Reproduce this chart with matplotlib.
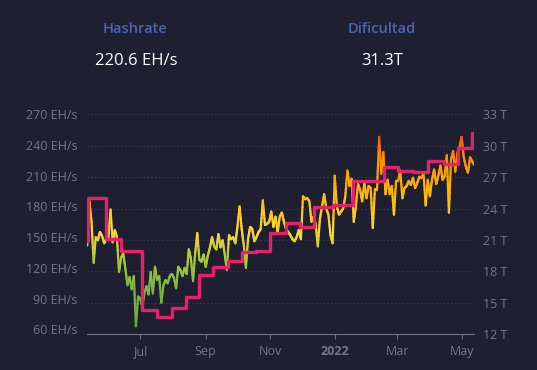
import numpy as np
import pandas as pd
import matplotlib
matplotlib.use("Agg")
import matplotlib.pyplot as plt
import matplotlib.dates as mdates
from matplotlib.collections import LineCollection
from matplotlib.colors import LinearSegmentedColormap

# hashrate (EH/s), one reading every 2 days starting 2021-05-12
start_date = "2021-05-12"
hashrate = [
    142, 185, 165, 125, 150, 147, 155, 151, 144, 149, 150, 177, 145, 157, 150, 116,
    130, 134, 119, 103, 111, 99, 112, 63, 92, 90, 82, 95, 102, 94, 116, 95,
    121, 108, 112, 86, 103, 108, 105, 112, 114, 110, 100, 121, 118, 112, 120, 114,
    138, 129, 107, 134, 154, 128, 126, 133, 121, 132, 140, 150, 141, 138, 153, 140,
    147, 133, 118, 152, 148, 150, 144, 160, 180, 158, 142, 120, 148, 160, 158, 146,
    150, 155, 158, 186, 162, 163, 165, 175, 160, 170, 155, 170, 174, 165, 158, 155,
    152, 148, 146, 150, 157, 148, 190, 187, 188, 185, 165, 170, 163, 141, 168, 180,
    192, 178, 172, 152, 144, 210, 180, 172, 175, 178, 190, 215, 200, 207, 165, 180,
    202, 196, 185, 203, 188, 200, 198, 159, 197, 196, 248, 212, 233, 192, 206, 192,
    200, 172, 205, 205, 215, 188, 198, 200, 205, 201, 208, 198, 203, 209, 208, 212,
    181, 206, 190, 206, 216, 202, 210, 220, 206, 210, 230, 174, 226, 234, 214, 232,
    238, 248, 228, 219, 213, 228, 224, 220.6,
]

# difficulty (T), value from each adjustment date on
diff_dates = [
    "2021-05-12", "2021-05-13", "2021-05-30", "2021-06-13", "2021-07-03", "2021-07-17",
    "2021-07-31", "2021-08-13", "2021-08-26", "2021-09-08", "2021-09-22", "2021-10-05",
    "2021-10-19", "2021-11-01", "2021-11-16", "2021-11-29", "2021-12-12", "2021-12-30",
    "2022-01-18", "2022-02-17", "2022-03-02", "2022-03-16", "2022-03-30", "2022-04-14",
    "2022-04-28", "2022-05-11", "2022-05-13",
]
difficulty = [
    20.86, 25.05, 21.05, 19.93, 14.36, 13.67, 14.50, 15.56, 17.62, 18.41, 19.03, 19.85,
    19.99, 21.66, 22.65, 22.21, 24.18, 24.34, 26.66, 27.94, 27.59, 27.45, 28.59, 28.23,
    29.82, 31.25, 31.25,
]

month_ticks = ["2021-07-01", "2021-09-01", "2021-11-01", "2022-01-01", "2022-03-01", "2022-05-01"]
month_labels = ["Jul", "Sep", "Nov", "2022", "Mar", "May"]

hash_ticks = [60, 90, 120, 150, 180, 210, 240, 270]
diff_ticks = [12, 15, 18, 21, 24, 27, 30, 33]

bg = "#1e1f30"
label_col = "#757888"
font = ["Open Sans", "DejaVu Sans"]
plt.rcParams["font.family"] = font

hash_dates = pd.date_range(start_date, periods=len(hashrate), freq="2D")
xnum = mdates.date2num(hash_dates.to_pydatetime())
dnum = mdates.date2num(pd.to_datetime(diff_dates).to_pydatetime())

fig = plt.figure(figsize=(5.37, 3.70), dpi=100, facecolor=bg)
rect = [87.3 / 537, 35.7 / 370, 387 / 537, 220 / 370]

# background axes: grid + right (difficulty) labels + date axis
axg = fig.add_axes(rect)
axg.set_facecolor(bg)
axg.set_xlim(xnum[0], xnum[-1])
axg.set_ylim(12, 33)
axg.set_yticks(diff_ticks)
axg.set_yticklabels([f"{v} T" for v in diff_ticks])
axg.yaxis.tick_right()
axg.tick_params(axis="y", length=0, pad=6, labelsize=9, colors=label_col)
axg.grid(axis="y", color="#3a3d54", linestyle=(0, (1, 2)), linewidth=0.9)
for s in ["top", "left", "right"]:
    axg.spines[s].set_visible(False)
axg.spines["bottom"].set_color("#6e7079")
axg.set_xticks(mdates.date2num(pd.to_datetime(month_ticks).to_pydatetime()))
axg.set_xticklabels(month_labels)
axg.tick_params(axis="x", length=3.5, width=0.8, color="#6e7079", pad=4,
                labelsize=9, labelcolor=label_col)
for lab in axg.get_xticklabels():
    if lab.get_text() == "2022":
        lab.set_fontweight("bold")

# hashrate axes (left scale)
axh = fig.add_axes(rect)
axh.patch.set_visible(False)
axh.set_xlim(xnum[0], xnum[-1])
axh.set_ylim(55.1, 270)
axh.set_yticks(hash_ticks)
axh.set_yticklabels([f"{v} EH/s" for v in hash_ticks])
axh.tick_params(axis="y", length=0, pad=7, labelsize=9, colors=label_col)
axh.set_xticks([])
for s in axh.spines.values():
    s.set_visible(False)

# value gradient on the hashrate line
cmap = LinearSegmentedColormap.from_list("hr", [
    (0.00, "#6fa83a"), (0.20, "#7cb342"), (0.35, "#a4c93a"), (0.50, "#fdd835"),
    (0.66, "#ffbf0a"), (0.80, "#ffa200"), (0.90, "#ff8a00"), (1.00, "#f0501e")])
sub = 8
idx = np.arange(len(hashrate))
t = np.linspace(0, len(hashrate) - 1, (len(hashrate) - 1) * sub + 1)
xs = np.interp(t, idx, xnum)
ys = np.interp(t, idx, hashrate)
pts = np.column_stack([xs, ys]).reshape(-1, 1, 2)
segs = np.concatenate([pts[:-1], pts[1:]], axis=1)
mid = (ys[:-1] + ys[1:]) / 2
lc = LineCollection(segs, cmap=cmap, norm=plt.Normalize(60, 250),
                    linewidth=1.6, capstyle="round", joinstyle="round")
lc.set_array(mid)
axh.add_collection(lc)

# difficulty axes (right scale)
axd = fig.add_axes(rect)
axd.patch.set_visible(False)
axd.set_xlim(xnum[0], xnum[-1])
axd.set_ylim(12, 33)
axd.axis("off")
axd.step(dnum, difficulty, where="post", color="#e3226a", linewidth=2.4,
         solid_joinstyle="round")

# header
fig.text(135 / 537, 1 - 29 / 370, "Hashrate", ha="center", va="center",
         color="#4c64b4", fontsize=10.5, fontweight="semibold")
fig.text(136 / 537, 1 - 61 / 370, "220.6 EH/s", ha="center", va="center",
         color="white", fontsize=12)
fig.text(382 / 537, 1 - 29 / 370, "Dificultad", ha="center", va="center",
         color="#4c64b4", fontsize=10.5, fontweight="semibold")
fig.text(382 / 537, 1 - 61 / 370, "31.3T", ha="center", va="center",
         color="white", fontsize=12)

fig.savefig("out.png", dpi=100, facecolor=bg)
